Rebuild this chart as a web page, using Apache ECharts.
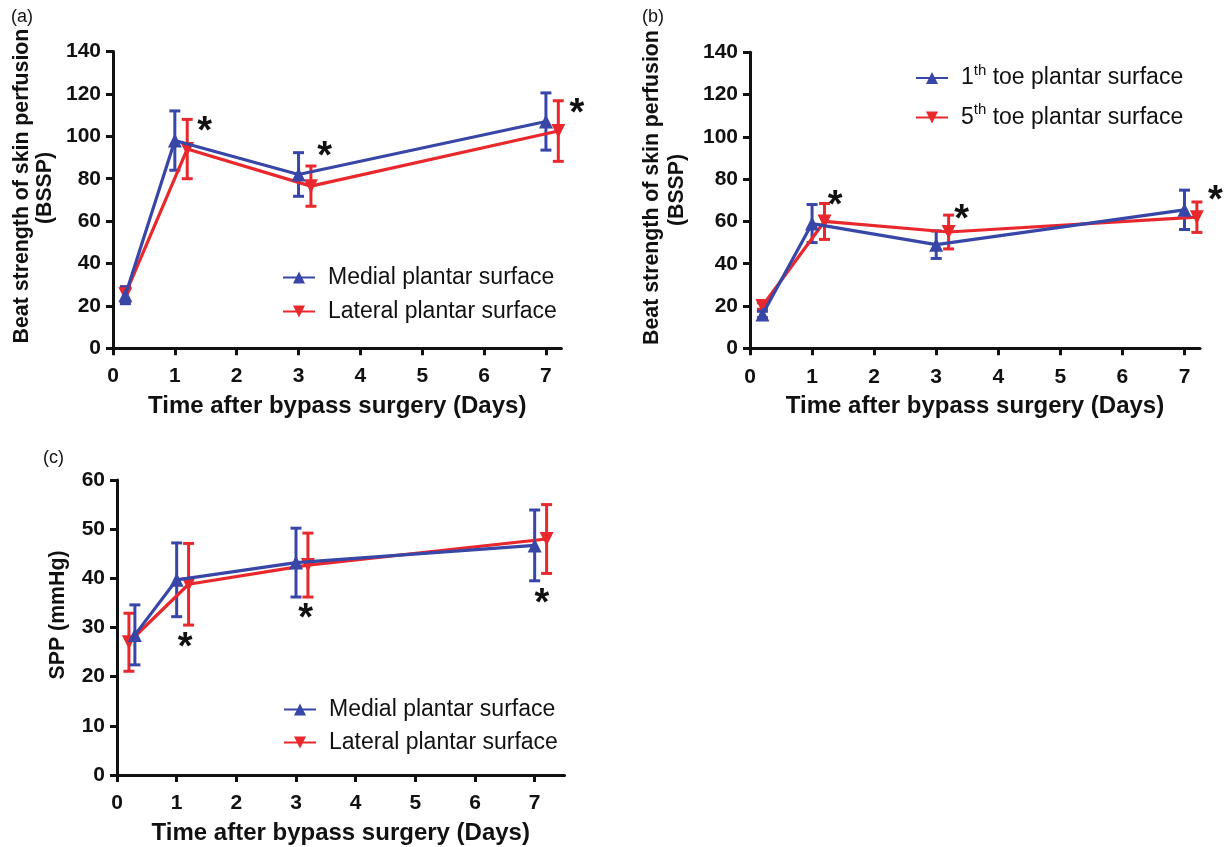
<!DOCTYPE html>
<html><head><meta charset="utf-8">
<script src="https://cdn.jsdelivr.net/npm/echarts@6/dist/echarts.min.js"></script>
<style>html,body{margin:0;padding:0;background:#fff}#c{width:1225px;height:847px}</style>
</head><body><div id="c"></div>
<script>
// ---- tick labels ----
const xTickValues = [0, 1, 2, 3, 4, 5, 6, 7];
const yTicksBSSP = [0, 20, 40, 60, 80, 100, 120, 140];
const yTicksSPP = [0, 10, 20, 30, 40, 50, 60];

// ---- panel (a) ----
const aNames = ['Medial plantar surface', 'Lateral plantar surface'];
const aBlueX = [0.2, 1, 3, 7];
const aBlueMean = [25, 98, 82, 107];
const aBlueSD = [4, 14, 10.3, 13.5];
const aRedX = [0.2, 1.2, 3.2, 7.2];
const aRedMean = [25.5, 94, 76.5, 102.5];
const aRedSD = [3.5, 14, 9.5, 14.3];
const aStarX = [1.48, 3.42, 7.5];
const aStarY = [106.7, 94.5, 114.8];

// ---- panel (b) ----
const bNames = ['1th toe plantar surface', '5th toe plantar surface'];
const bBlueX = [0.2, 1, 3, 7];
const bBlueMean = [16, 59, 49, 65.5];
const bBlueSD = [1.5, 9, 6.5, 9.3];
const bRedX = [0.2, 1.2, 3.2, 7.2];
const bRedMean = [20, 60, 55, 62];
const bRedSD = [1.5, 8.5, 8, 7.2];
const bStarX = [1.37, 3.41, 7.5];
const bStarY = [71.7, 65, 74];

// ---- panel (c) ----
const cNames = ['Medial plantar surface', 'Lateral plantar surface'];
const cBlueX = [0.3, 1, 3, 7];
const cBlueMean = [28.5, 39.7, 43.2, 46.7];
const cBlueSD = [6.1, 7.5, 7, 7.2];
const cRedX = [0.2, 1.2, 3.2, 7.2];
const cRedMean = [27, 38.8, 42.7, 48];
const cRedSD = [5.9, 8.3, 6.5, 7];
const cStarX = [1.14, 3.16, 7.12];
const cStarY = [27.8, 33.6, 36.8];

const FONT = "'Liberation Sans', Arial, sans-serif";
const BLUE = '#3846a8';
const RED = '#e8282c';
const INK = '#111111';

function zip(xs, ys) { return xs.map((x, i) => [x, ys[i]]); }
function errData(xs, m, s) { return xs.map((x, i) => [x, m[i] - s[i], m[i] + s[i]]); }

function errSeries(gi, xs, m, s, color) {
  return {
    type: 'custom', xAxisIndex: gi, yAxisIndex: gi, z: 2, silent: true, clip: false,
    data: errData(xs, m, s), encode: { x: 0, y: [1, 2] },
    renderItem: function (params, api) {
      const x = api.value(0);
      const top = api.coord([x, api.value(2)]);
      const bot = api.coord([x, api.value(1)]);
      const hw = 5.5;
      const st = { stroke: color, lineWidth: 3 };
      return {
        type: 'group', children: [
          { type: 'line', shape: { x1: top[0], y1: top[1], x2: bot[0], y2: bot[1] }, style: st },
          { type: 'line', shape: { x1: top[0] - hw, y1: top[1], x2: top[0] + hw, y2: top[1] }, style: st },
          { type: 'line', shape: { x1: bot[0] - hw, y1: bot[1], x2: bot[0] + hw, y2: bot[1] }, style: st }
        ]
      };
    }
  };
}

function lineSeries(gi, name, xs, m, color, down) {
  return {
    type: 'line', name: name, xAxisIndex: gi, yAxisIndex: gi, z: down ? 3 : 4,
    data: zip(xs, m), symbol: 'triangle', symbolSize: 14, symbolRotate: down ? 180 : 0,
    showSymbol: true, clip: false,
    lineStyle: { color: color, width: 3.2 }, itemStyle: { color: color }
  };
}

function starSeries(gi, xs, ys) {
  return {
    type: 'scatter', xAxisIndex: gi, yAxisIndex: gi, z: 5, silent: true, clip: false,
    data: zip(xs, ys), symbolSize: 1, itemStyle: { color: 'rgba(0,0,0,0)' },
    label: { show: true, position: 'inside', formatter: '*', offset: [0, 10],
      fontFamily: FONT, fontSize: 38, fontWeight: 'bold', color: INK, opacity: 1 }
  };
}

function xAxisCfg(gi, max) {
  return {
    type: 'value', gridIndex: gi, min: 0, max: max, interval: 1,
    name: 'Time after bypass surgery (Days)', nameLocation: 'middle', nameGap: 46,
    nameTextStyle: { fontFamily: FONT, fontWeight: 'bold', fontSize: 24, color: INK },
    axisLine: { show: true, onZero: false, lineStyle: { color: INK, width: 3 } },
    axisTick: { show: true, inside: false, length: 7, lineStyle: { color: INK, width: 3 }, customValues: xTickValues },
    axisLabel: { show: true, margin: 18, fontFamily: FONT, fontWeight: 'bold', fontSize: 21, color: INK, customValues: xTickValues },
    splitLine: { show: false }
  };
}
function yAxisCfg(gi, ticks) {
  return {
    type: 'value', gridIndex: gi, min: ticks[0], max: ticks[ticks.length - 1], interval: ticks[1] - ticks[0],
    axisLine: { show: true, onZero: false, lineStyle: { color: INK, width: 3 } },
    axisTick: { show: true, inside: false, length: 7, lineStyle: { color: INK, width: 3 }, customValues: ticks },
    axisLabel: { show: true, margin: 12, fontFamily: FONT, fontWeight: 'bold', fontSize: 21, color: INK, customValues: ticks },
    splitLine: { show: false }
  };
}

function legendCfg(names, left, top, gap, rich) {
  const cfg = {
    data: names, orient: 'vertical', left: left, top: top, itemGap: gap,
    itemWidth: 32, itemHeight: 15, selectedMode: false,
    textStyle: { fontFamily: FONT, fontSize: 23, color: INK, padding: [0, 0, 0, 8] }
  };
  if (rich) {
    cfg.formatter = function (name) {
      const m = name.match(/^(\d)th(.*)$/);
      return '{n|' + m[1] + '}{s|th}{n|' + m[2] + '}';
    };
    cfg.textStyle.rich = {
      n: { fontFamily: FONT, fontSize: 23, color: INK, lineHeight: 30 },
      s: { fontFamily: FONT, fontSize: 15, color: INK, lineHeight: 15, verticalAlign: 'top' }
    };
  }
  return cfg;
}

function vText(x, y, text, size) {
  return { type: 'text', x: x, y: y, rotation: Math.PI / 2, silent: true,
    style: { text: text, font: 'bold ' + size + 'px ' + FONT, fill: INK, align: 'center', verticalAlign: 'middle' } };
}
function pText(x, y, text) {
  return { type: 'text', x: x, y: y, silent: true,
    style: { text: text, font: '18px ' + FONT, fill: INK, align: 'left', verticalAlign: 'top' } };
}

const option = {
  backgroundColor: '#ffffff',
  animation: false,
  grid: [
    { left: 113, top: 51.6, width: 448.4, height: 296.6, containLabel: false, outerBoundsMode: 'none' },
    { left: 750, top: 52.3, width: 450, height: 296, containLabel: false, outerBoundsMode: 'none' },
    { left: 117, top: 480, width: 447.5, height: 295, containLabel: false, outerBoundsMode: 'none' }
  ],
  xAxis: [xAxisCfg(0, 7.25), xAxisCfg(1, 7.25), xAxisCfg(2, 7.5)],
  yAxis: [yAxisCfg(0, yTicksBSSP), yAxisCfg(1, yTicksBSSP), yAxisCfg(2, yTicksSPP)],
  legend: [
    legendCfg(aNames, 277, 261, 11, false),
    legendCfg(bNames, 910, 58, 13, true),
    legendCfg(cNames, 278, 693, 10, false)
  ],
  series: [
    errSeries(0, aRedX, aRedMean, aRedSD, RED),
    errSeries(0, aBlueX, aBlueMean, aBlueSD, BLUE),
    lineSeries(0, aNames[1], aRedX, aRedMean, RED, true),
    lineSeries(0, aNames[0], aBlueX, aBlueMean, BLUE, false),
    starSeries(0, aStarX, aStarY),

    errSeries(1, bRedX, bRedMean, bRedSD, RED),
    errSeries(1, bBlueX, bBlueMean, bBlueSD, BLUE),
    lineSeries(1, bNames[1], bRedX, bRedMean, RED, true),
    lineSeries(1, bNames[0], bBlueX, bBlueMean, BLUE, false),
    starSeries(1, bStarX, bStarY),

    errSeries(2, cRedX, cRedMean, cRedSD, RED),
    errSeries(2, cBlueX, cBlueMean, cBlueSD, BLUE),
    lineSeries(2, cNames[1], cRedX, cRedMean, RED, true),
    lineSeries(2, cNames[0], cBlueX, cBlueMean, BLUE, false),
    starSeries(2, cStarX, cStarY)
  ],
  graphic: [
    pText(11, 8, '(a)'),
    pText(642, 8, '(b)'),
    pText(43, 449, '(c)'),
    vText(21.7, 186, 'Beat strength of skin perfusion', 21.3),
    vText(45, 188, '(BSSP)', 21.3),
    vText(651.7, 187.5, 'Beat strength of skin perfusion', 21.3),
    vText(676.7, 190, '(BSSP)', 21.3),
    vText(58.3, 615, 'SPP (mmHg)', 21.3)
  ]
};

const chart = echarts.init(document.getElementById('c'), null, { renderer: 'canvas' });
chart.setOption(option);
</script>
</body></html>
